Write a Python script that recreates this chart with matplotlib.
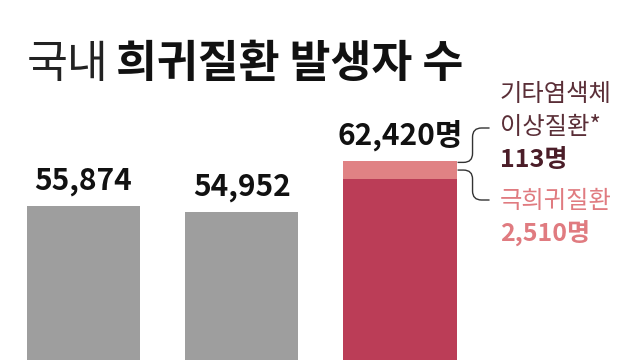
import matplotlib
matplotlib.use("Agg")
import matplotlib.pyplot as plt
from matplotlib.path import Path
from matplotlib.patches import PathPatch

plt.rcParams['font.family'] = ['Noto Sans CJK KR', 'DejaVu Sans']

# ---- data ----
categories = ['A', 'B', 'C']
totals = [55874, 54952, 62420]
rare_main = 59797          # 62,420 - 2,510 - 113
ultra_rare = 2510
chromosome = 113
value_labels = ['55,874', '54,952', '62,420명']

GRAY = '#9e9e9e'
RED = '#bb3d57'
PINK = '#e08284'
PINK_TXT = '#e07b80'
MAROON = '#4b1d28'
MAROON_TXT = '#5a2e37'

fig = plt.figure(figsize=(6.4, 3.6), dpi=100)
ax = fig.add_axes([0, 0, 1, 1])
ax.set_xlim(-0.527, 3.518)
ax.set_ylim(33425, 85790)
ax.axis('off')

x = list(range(len(categories)))
w = 0.717
ax.bar(x[:2], totals[:2], width=w, color=GRAY, zorder=2)
ax.bar(x[2], rare_main, width=w, color=RED, zorder=2)
ax.bar(x[2], ultra_rare, bottom=rare_main, width=w, color=PINK, zorder=2)
ax.bar(x[2], chromosome, bottom=rare_main + ultra_rare, width=w, color=PINK, zorder=2)

# value labels
for xi, t, lab in zip(x, totals, value_labels):
    ax.annotate(lab, (xi, t), xytext=(0, 10), textcoords='offset pixels',
                ha='center', va='bottom', fontsize=21.5, fontweight='bold',
                color='#111111')

# title
fig.text(27/640, 1 - 77/360, '국내', fontsize=32, fontweight='light',
         color='#222222', ha='left', va='baseline')
fig.text(116/640, 1 - 77/360, '희귀질환 발생자 수', fontsize=32,
         fontweight='bold', color='#111111', ha='left', va='baseline')

# brackets (in pixel space, anchored to data)
def px(xd, yd):
    return ax.transData.transform((xd, yd))

H = 360
bar_right = x[2] + w / 2

def bracket(y_start_data, y_end_px):
    x0, y0 = px(bar_right, y_start_data)
    xs = x0 + 1
    xv = x0 + 16
    xe = x0 + 33
    r = 9
    ye = H - y_end_px
    sgn = 1 if ye > y0 else -1
    verts = [(xs, y0), (xv - r, y0), (xv, y0), (xv, y0 + sgn * r),
             (xv, ye - sgn * r), (xv, ye), (xv + r, ye), (xe, ye)]
    codes = [Path.MOVETO, Path.LINETO, Path.CURVE3, Path.CURVE3,
             Path.LINETO, Path.CURVE3, Path.CURVE3, Path.LINETO]
    p = Path(verts, codes)
    patch = PathPatch(p, transform=None, fill=False, edgecolor='#333333',
                      lw=1.0, zorder=3)
    fig.add_artist(patch)

bracket(totals[2] - 250, 128)
bracket(rare_main + ultra_rare / 2, 200)

# right annotations
tx = 500 / 640
fig.text(tx, 1 - 94/360, '기타염색체', fontsize=17.5, color=MAROON_TXT,
         ha='left', va='center')
fig.text(tx, 1 - 127/360, '이상질환*', fontsize=17.5, color=MAROON_TXT,
         ha='left', va='center')
fig.text(tx, 1 - 160/360, '113명', fontsize=18, fontweight='bold',
         color=MAROON, ha='left', va='center')
fig.text(tx, 1 - 201/360, '극희귀질환', fontsize=17.5, color=PINK_TXT,
         ha='left', va='center')
fig.text(tx, 1 - 234/360, '2,510명', fontsize=18, fontweight='bold',
         color=PINK_TXT, ha='left', va='center')

fig.savefig('out.png', dpi=100, facecolor='white')
